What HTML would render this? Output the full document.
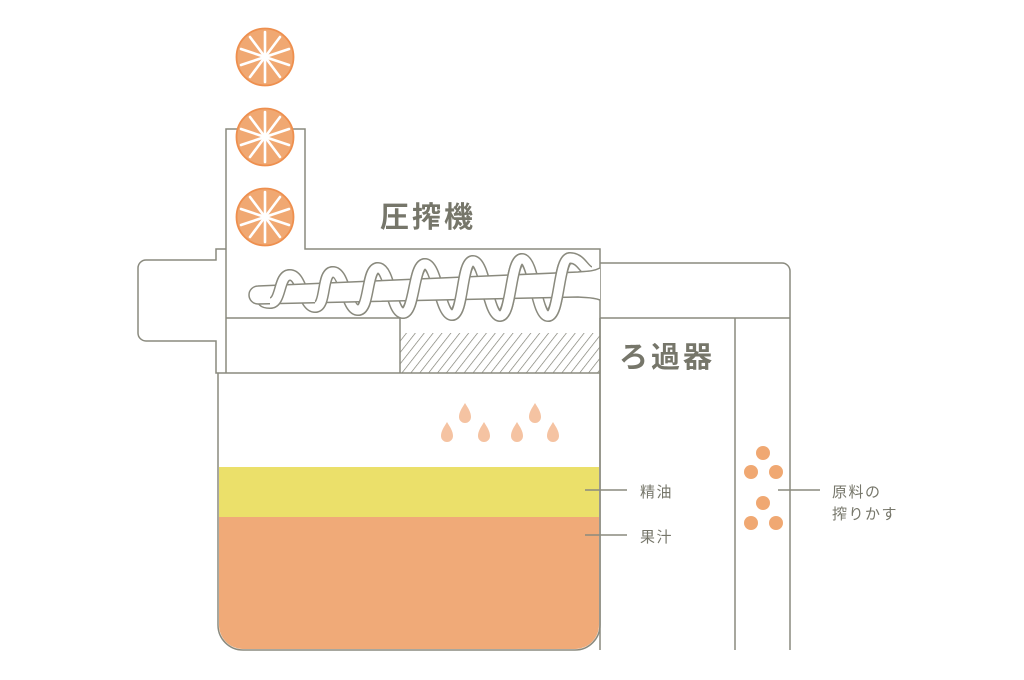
<!DOCTYPE html>
<html><head><meta charset="utf-8"><style>
html,body{margin:0;padding:0;background:#fff;width:1024px;height:680px;overflow:hidden}
svg{display:block}
text{font-family:"Liberation Sans","Noto Sans CJK JP",sans-serif;fill:#76766a}
</style></head><body>
<svg width="1024" height="680" viewBox="0 0 1024 680" xmlns="http://www.w3.org/2000/svg">
<defs>
<pattern id="h" width="7" height="7" patternUnits="userSpaceOnUse" patternTransform="rotate(38)">
<line x1="0" y1="0" x2="0" y2="7" stroke="#77776b" stroke-width="1.3"/>
</pattern>
<g id="orange">
<circle r="28.5" fill="#f0a872" stroke="#ee8f4e" stroke-width="1.8"/>
<g stroke="#fff" stroke-width="2.6" stroke-linecap="round">
<line x1="0" y1="0" x2="0" y2="-25"/><line x1="0" y1="0" x2="15" y2="-20"/><line x1="0" y1="0" x2="24" y2="-8"/>
<line x1="0" y1="0" x2="24" y2="8"/><line x1="0" y1="0" x2="15" y2="20"/><line x1="0" y1="0" x2="0" y2="25"/>
<line x1="0" y1="0" x2="-15" y2="20"/><line x1="0" y1="0" x2="-24" y2="8"/><line x1="0" y1="0" x2="-24" y2="-8"/>
<line x1="0" y1="0" x2="-15" y2="-20"/>
</g>
</g>
<path id="drop" d="M0,-10 C3,-5 6,-1 6,4 A6,6 0 0 1 -6,4 C-6,-1 -3,-5 0,-10Z" fill="#f5c3a2"/>
<path id="helix" d="M262,297 C266,297 258,303 270,303 C282,303 278,275 290,275 C302,275 303,307 315,307 C327,307 321,272 333,272 C345,272 346,310 358,310 C370,310 366,268 378,268 C390,268 391,313 403,313 C415,313 413,264 425,264 C437,264 440,315 452,315 C464,315 461,261 473,261 C485,261 488,316 500,316 C512,316 510,259 522,259 C534,259 536,316 548,316 C560,316 558,258 570,258 C582,258 584,272 592,272"/>
<path id="front" d="M270,303 C282,303 278,275 290,275 M315,307 C327,307 321,272 333,272 M358,310 C370,310 366,268 378,268 M403,313 C415,313 413,264 425,264 M452,315 C464,315 461,261 473,261 M500,316 C512,316 510,259 522,259 M548,316 C560,316 558,258 570,258"/>
</defs>
<rect x="219" y="467" width="380" height="50" fill="#ebe06a"/>
<path d="M219,517 H599 V625 A24,24 0 0 1 575,649 H243 A24,24 0 0 1 219,625 Z" fill="#f0aa78"/>
<rect x="400" y="333" width="200" height="40" fill="url(#h)"/>
<g fill="none" stroke="#8a8a7e" stroke-width="1.5">
<path d="M218,373 V625 A25,25 0 0 0 243,650 H575 A25,25 0 0 0 600,625 V373"/>
<path d="M226,249 V129 H305 V249 H600 V373"/>
<path d="M226,249 H216 V260 H146 A8,8 0 0 0 138,268 V333 A8,8 0 0 0 146,341 H216 V373 H600"/>
<path d="M226,249 V373"/>
<path d="M226,318 H400 V373"/>
<path d="M600,263 H782 A8,8 0 0 1 790,271 V650"/>
<path d="M600,318 H790"/>
<path d="M735,318 V650"/>
<path d="M600,318 V650"/>
<line x1="585" y1="490" x2="627" y2="490"/>
<line x1="585" y1="535" x2="627" y2="535"/>
<line x1="778" y1="490" x2="820" y2="490"/>
</g>
<!-- screw -->
<use href="#helix" fill="none" stroke="#8a8a7e" stroke-width="12"/>
<use href="#helix" fill="none" stroke="#fff" stroke-width="9"/>
<path d="M600,268 C592,272 585,271 578,272 L258,286 A9,9 0 0 0 258,304 L578,297 C586,298 592,297 600,300" fill="#fff" stroke="#8a8a7e" stroke-width="1.5"/>
<use href="#front" fill="none" stroke="#8a8a7e" stroke-width="12"/>
<use href="#front" fill="none" stroke="#fff" stroke-width="9"/>
<use href="#orange" x="265" y="57"/>
<use href="#orange" x="265" y="137"/>
<use href="#orange" x="265" y="217"/>
<use href="#drop" x="465" y="413"/><use href="#drop" x="535" y="413"/>
<use href="#drop" x="447" y="432"/><use href="#drop" x="484" y="432"/>
<use href="#drop" x="517" y="432"/><use href="#drop" x="553" y="432"/>
<g fill="#f0a872">
<circle cx="763" cy="453" r="7"/><circle cx="751" cy="472" r="7"/><circle cx="776" cy="472" r="7"/>
<circle cx="763" cy="503" r="7"/><circle cx="751" cy="523" r="7"/><circle cx="776" cy="523" r="7"/>
</g>
<text x="380" y="227" font-size="29" font-weight="bold" letter-spacing="3">圧搾機</text>
<text x="619" y="367" font-size="29" font-weight="bold" letter-spacing="3">ろ過器</text>
<text x="640" y="497" font-size="15" letter-spacing="1.5">精油</text>
<text x="640" y="542" font-size="15" letter-spacing="1.5">果汁</text>
<text x="832" y="497" font-size="15" letter-spacing="1.5">原料の</text>
<text x="832" y="519" font-size="15" letter-spacing="1.5">搾りかす</text>
</svg>
</body></html>
